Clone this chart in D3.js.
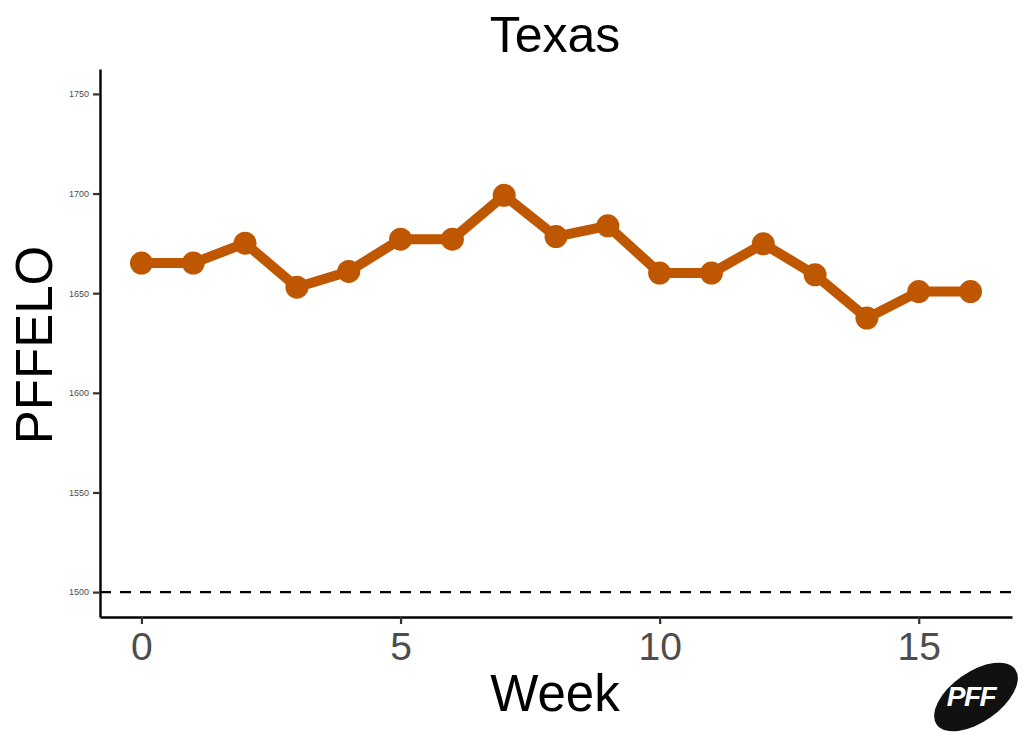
<!DOCTYPE html>
<html><head><meta charset="utf-8">
<script src="https://cdn.jsdelivr.net/npm/d3@7"></script>
<style>body{margin:0;background:#fff}svg{display:block;font-family:"Liberation Sans",Arial,sans-serif}</style>
</head><body><svg id="c" width="1024" height="732"></svg>
<script>
const weeks = [0,1,2,3,4,5,6,7,8,9,10,11,12,13,14,15,16];
const elo = [1665.1,1665.1,1675.1,1653.0,1660.9,1677.1,1677.1,1699.1,1678.4,1683.8,1660.1,1660.1,1674.8,1659.2,1637.5,1650.8,1650.8];
const xTicks = [0,5,10,15];
const yTicks = [1500,1550,1600,1650,1700,1750];
const baseline = 1500;
const title = "Texas", xLabel = "Week", yLabel = "PFFELO";

const svg = d3.select("#c");
const x = d3.scaleLinear().domain([-0.8,16.8]).range([100,1012]);
const y = d3.scaleLinear().domain([1487.5,1762.5]).range([617,69]);
const col = "#BF5700";

// dashed baseline
svg.append("line").attr("x1",x(-0.8)).attr("x2",x(16.8)).attr("y1",y(baseline)).attr("y2",y(baseline))
  .attr("stroke","#000").attr("stroke-width",2.4).attr("stroke-dasharray","11,9");

// axes
const xa = svg.append("g").attr("transform","translate(0,617)").call(d3.axisBottom(x).tickValues(xTicks).tickSize(7).tickPadding(8).tickSizeOuter(0));
xa.select(".domain").attr("stroke","#000").attr("stroke-width",2.4);
xa.selectAll(".tick line").attr("stroke","#333").attr("stroke-width",2.2);
xa.selectAll(".tick text").attr("font-size",39).attr("fill","#4d4d4d").attr("font-family","Liberation Sans, Arial, sans-serif");

const ya = svg.append("g").attr("transform","translate(100,0)").call(d3.axisLeft(y).tickValues(yTicks).tickFormat(d3.format("d")).tickSize(7).tickPadding(4).tickSizeOuter(0));
ya.select(".domain").attr("stroke","#000").attr("stroke-width",2.4);
ya.selectAll(".tick line").attr("stroke","#333").attr("stroke-width",2.2);
ya.selectAll(".tick text").attr("font-size",9).attr("fill","#4d4d4d").attr("font-family","Liberation Sans, Arial, sans-serif");

// line & points
const line = d3.line().x((d,i)=>x(weeks[i])).y(d=>y(d));
svg.append("path").datum(elo).attr("d",line).attr("fill","none").attr("stroke",col).attr("stroke-width",10).attr("stroke-linejoin","round");
svg.selectAll("circle.pt").data(elo).enter().append("circle").attr("class","pt")
  .attr("cx",(d,i)=>x(weeks[i])).attr("cy",d=>y(d)).attr("r",11.5).attr("fill",col);

// titles
svg.append("text").attr("x",555).attr("y",52).attr("text-anchor","middle").attr("font-size",50).text(title);
svg.append("text").attr("x",555).attr("y",711).attr("text-anchor","middle").attr("font-size",51).text(xLabel);
svg.append("text").attr("transform","translate(52,345) rotate(-90)").attr("text-anchor","middle").attr("font-size",51).text(yLabel);

// PFF logo
const lg = svg.append("g").attr("transform","translate(976,697) rotate(-35)");
lg.append("ellipse").attr("rx",48).attr("ry",25).attr("fill","#111");
svg.append("text").attr("x",971).attr("y",706).attr("text-anchor","middle").attr("font-size",28).attr("font-weight","bold")
  .attr("font-style","italic").attr("fill","#fff").attr("letter-spacing",-1.5).text("PFF");
</script></body></html>
